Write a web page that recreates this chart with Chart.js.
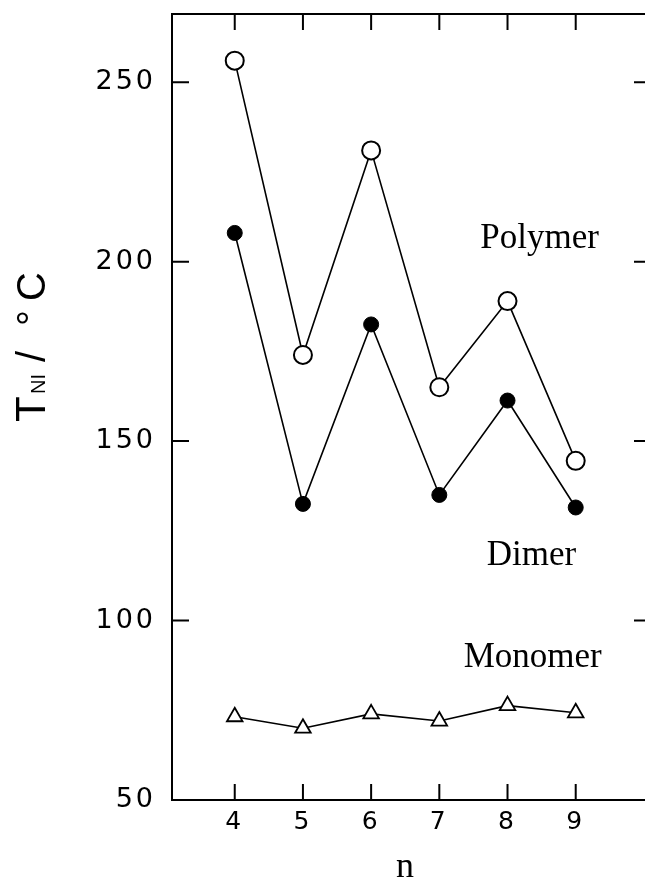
<!DOCTYPE html>
<html><head><meta charset="utf-8">
<script src="https://cdn.jsdelivr.net/npm/chart.js@4.4.1/dist/chart.umd.min.js"></script>
<style>html,body{margin:0;padding:0;background:#fff;overflow:hidden}#wrap{width:650px;height:880px;position:relative}</style>
</head><body><div id="wrap"><canvas id="c"></canvas></div>
<script>
// ---- data ----
const nValues = [4, 5, 6, 7, 8, 9];
const polymer = [256, 174, 231, 165, 189, 144.5];
const dimer   = [208, 132.5, 182.5, 135, 161.3, 131.5];
const monomer = [73.2, 70, 74, 72, 76.3, 74.3];
const xTicks = [4, 5, 6, 7, 8, 9];
const yTicks = [50, 100, 150, 200, 250];
const seriesNames = ['Polymer', 'Dimer', 'Monomer'];
const xTitle = 'n';

const toXY = arr => nValues.map((n, i) => ({x: n, y: arr[i]}));

const framePlugin = {
  id: 'frame',
  beforeDraw(chart) { chart.ctx.letterSpacing = '3px'; },
  afterDraw(chart) {
    const ctx = chart.ctx;
    const {left, right, top, bottom} = chart.chartArea;
    const xs = chart.scales.x, ys = chart.scales.y;
    ctx.save();
    ctx.letterSpacing = '0px';
    ctx.strokeStyle = '#000';
    ctx.lineWidth = 2;
    ctx.beginPath();
    ctx.rect(left, top, right - left, bottom - top);
    ctx.stroke();
    ctx.beginPath();
    xTicks.forEach(v => {
      const px = xs.getPixelForValue(v);
      ctx.moveTo(px, bottom); ctx.lineTo(px, bottom - 16);
      ctx.moveTo(px, top); ctx.lineTo(px, top + 16);
    });
    yTicks.forEach(v => {
      const py = ys.getPixelForValue(v);
      ctx.moveTo(left, py); ctx.lineTo(left + 17, py);
      ctx.moveTo(right, py); ctx.lineTo(right - 14, py);
    });
    ctx.stroke();

    // series labels
    ctx.fillStyle = '#000';
    ctx.font = '35px "Liberation Serif"';
    ctx.textAlign = 'center';
    ctx.textBaseline = 'alphabetic';
    const labelPos = [[8.47, 203.8], [8.35, 115.5], [8.37, 87]];
    seriesNames.forEach((s, i) => {
      ctx.fillText(s, xs.getPixelForValue(labelPos[i][0]), ys.getPixelForValue(labelPos[i][1]));
    });
    // x title
    ctx.font = '36px "Liberation Serif"';
    ctx.fillText(xTitle, (left + right) / 2 - 5, 877);

    // y title: T_NI / °C (rotated)
    ctx.translate(45, 422);
    ctx.rotate(-Math.PI / 2);
    ctx.textAlign = 'left';
    ctx.font = '42px "Liberation Sans"';
    ctx.fillText('T', 0, 0);
    ctx.font = '20px "Liberation Sans"';
    ctx.fillText('NI', 28, 0);
    ctx.font = '40px "Liberation Sans"';
    ctx.fillText('/', 60, 0);
    ctx.fillText('°', 96, 0);
    ctx.fillText('C', 121, 0);
    ctx.restore();
  }
};

new Chart(document.getElementById('c'), {
  type: 'line',
  data: {
    datasets: [
      {label: seriesNames[0], data: toXY(polymer), borderColor: '#000', borderWidth: 1.6,
       pointStyle: 'circle', pointRadius: 9, pointBackgroundColor: '#fff', pointBorderColor: '#000', pointBorderWidth: 2},
      {label: seriesNames[1], data: toXY(dimer), borderColor: '#000', borderWidth: 1.6,
       pointStyle: 'circle', pointRadius: 7.5, pointBackgroundColor: '#000', pointBorderColor: '#000', pointBorderWidth: 1},
      {label: seriesNames[2], data: toXY(monomer), borderColor: '#000', borderWidth: 1.6,
       pointStyle: 'triangle', pointRadius: 9, pointBackgroundColor: '#fff', pointBorderColor: '#000', pointBorderWidth: 1.8}
    ]
  },
  options: {
    responsive: true, maintainAspectRatio: false, animation: false,
    layout: {autoPadding: false, padding: {top: 14, right: 2, left: 0, bottom: 0}},
    plugins: {legend: {display: false}, tooltip: {enabled: false}},
    elements: {line: {tension: 0}},
    scales: {
      x: {
        type: 'linear', min: 3.08, max: 10.06,
        afterBuildTicks: s => { s.ticks = xTicks.map(v => ({value: v})); },
        afterFit: s => { s.height = 80; s.paddingLeft = 0; s.paddingRight = 0; },
        grid: {display: false}, border: {display: false},
        ticks: {color: '#000', font: {family: 'DejaVu Sans', size: 25}, padding: -1}
      },
      y: {
        min: 50, max: 269,
        afterBuildTicks: s => { s.ticks = yTicks.map(v => ({value: v})); },
        afterFit: s => { s.width = 172; s.paddingTop = 0; s.paddingBottom = 0; },
        grid: {display: false}, border: {display: false},
        ticks: {color: '#000', font: {family: 'DejaVu Sans', size: 27}, padding: 8}
      }
    }
  },
  plugins: [framePlugin]
});
</script>
</body></html>
